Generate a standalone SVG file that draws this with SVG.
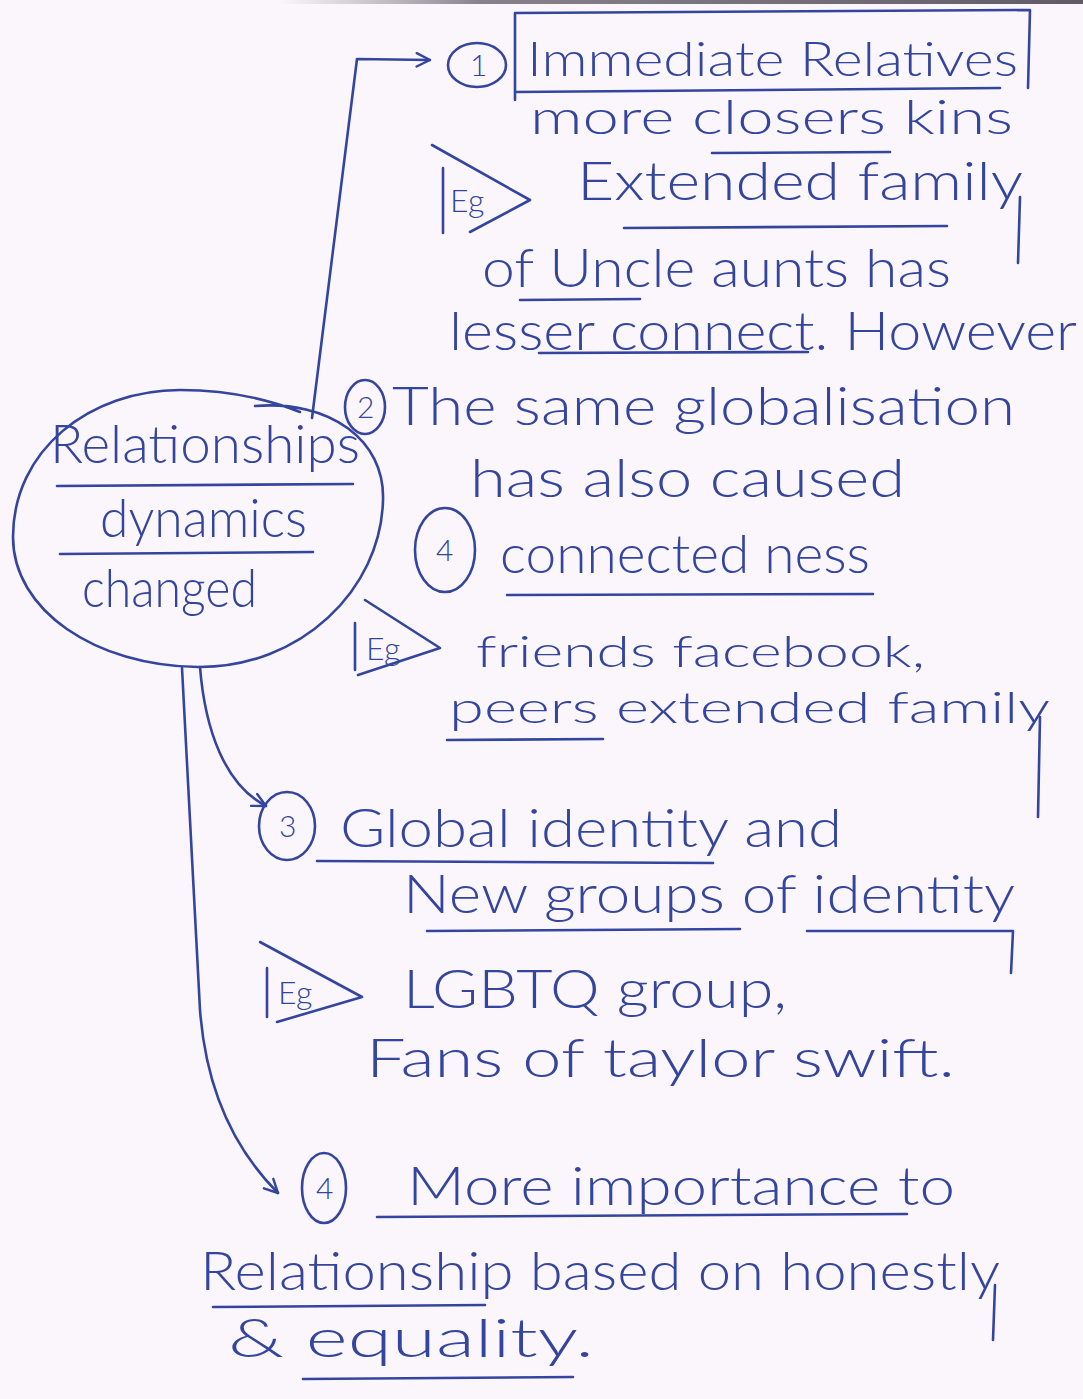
<svg xmlns="http://www.w3.org/2000/svg" width="1083" height="1399" viewBox="0 0 1083 1399">
  <defs>
    <style>
      .ink { fill: #34459f; font-family: 'Lato', 'Noto Sans', 'DejaVu Sans', sans-serif; font-weight: 300; }
      .big { font-size: 54px; }
      .mid { font-size: 48px; }
      .tight { font-size: 44px; }
      .small { font-size: 30px; }
      .tag { font-size: 32px; }
      .pen { fill: none; stroke: #34459f; stroke-width: 2.6; stroke-linecap: round; stroke-linejoin: round; }
    </style>
    <marker id="chev" viewBox="0 0 12 12" refX="11" refY="6" markerWidth="16" markerHeight="16" markerUnits="userSpaceOnUse" orient="auto">
      <path d="M1,1 L11,6 L1,11" fill="none" stroke="#34459f" stroke-width="1.8" stroke-linecap="round" stroke-linejoin="round"/>
    </marker>
    <linearGradient id="edge" x1="0" y1="0" x2="1" y2="0">
      <stop offset="0" stop-color="#7a7280" stop-opacity="0"/>
      <stop offset="0.25" stop-color="#6a6470" stop-opacity="0.8"/>
      <stop offset="1" stop-color="#4f4a55" stop-opacity="0.9"/>
    </linearGradient>
  </defs>

  <!-- paper -->
  <rect x="0" y="0" width="1083" height="1399" fill="#fbf6fb"/>
  <rect x="280" y="0" width="803" height="4" fill="url(#edge)"/>

  <!-- connectors from the central idea -->
  <g id="connectors" class="pen">
    <path d="M312,418 L357,59 L430,60" marker-end="url(#chev)"/>
    <path d="M200,667 C205,730 225,785 266,806" marker-end="url(#chev)"/>
    <path d="M182,668 L200,1010 C206,1090 235,1150 278,1193" marker-end="url(#chev)"/>
  </g>

  <!-- central idea -->
  <g id="center">
    <path class="pen" d="M255,406 C330,400 385,440 383,500 C381,590 300,668 198,667 C95,666 13,610 13,537 C13,450 90,390 180,390 C230,390 270,400 300,412"/>
    <text class="ink big" x="50" y="463" textLength="310" lengthAdjust="spacingAndGlyphs">Relationships</text>
    <path class="pen" d="M57,486 L353,484"/>
    <text class="ink big" x="100" y="537" textLength="207" lengthAdjust="spacingAndGlyphs">dynamics</text>
    <path class="pen" d="M60,554 L313,552"/>
    <text class="ink big" x="82" y="607" textLength="175" lengthAdjust="spacingAndGlyphs">changed</text>
  </g>

  <!-- point 1 -->
  <g id="point-1">
    <ellipse class="pen" cx="477" cy="65" rx="29" ry="22"/>
    <text class="ink small" x="470" y="76">1</text>
    <path class="pen" d="M515,100 L515,13 L1030,10 L1028,88 M515,92 L1000,88"/>
    <text class="ink mid" x="527" y="76" textLength="491" lengthAdjust="spacingAndGlyphs">Immediate Relatives</text>
    <text class="ink mid" x="530" y="134" textLength="483" lengthAdjust="spacingAndGlyphs">more closers kins</text>
    <path class="pen" d="M712,153 L890,152"/>
    <path class="pen" d="M432,145 L530,200 L470,232 M443,168 L443,233"/>
    <text class="ink tag" x="450" y="212">Eg</text>
    <text class="ink big" x="577" y="200" textLength="446" lengthAdjust="spacingAndGlyphs">Extended family</text>
    <path class="pen" d="M624,228 L947,226 M1020,197 L1018,263"/>
    <text class="ink big" x="482" y="287" textLength="469" lengthAdjust="spacingAndGlyphs">of Uncle aunts has</text>
    <path class="pen" d="M520,300 L640,299"/>
    <text class="ink big" x="449" y="350" textLength="628" lengthAdjust="spacingAndGlyphs">lesser connect. However</text>
    <path class="pen" d="M539,353 L808,352"/>
  </g>

  <!-- point 2 -->
  <g id="point-2">
    <ellipse class="pen" cx="365" cy="407" rx="20" ry="27"/>
    <text class="ink small" x="357" y="418">2</text>
    <text class="ink big" x="392" y="425" textLength="623" lengthAdjust="spacingAndGlyphs">The same globalisation</text>
    <text class="ink big" x="470" y="497" textLength="435" lengthAdjust="spacingAndGlyphs">has also caused</text>
    <ellipse class="pen" cx="445" cy="550" rx="30" ry="42"/>
    <text class="ink small" x="436" y="561">4</text>
    <text class="ink big" x="500" y="573" textLength="370" lengthAdjust="spacingAndGlyphs">connected ness</text>
    <path class="pen" d="M507,595 L873,594"/>
    <path class="pen" d="M365,600 L440,648 L358,675 M355,623 L355,670"/>
    <text class="ink tag" x="366" y="660">Eg</text>
    <text class="ink tight" x="476" y="667" textLength="449" lengthAdjust="spacingAndGlyphs">friends facebook,</text>
    <text class="ink tight" x="449" y="723" textLength="601" lengthAdjust="spacingAndGlyphs">peers extended family</text>
    <path class="pen" d="M447,740 L603,739 M1040,717 L1038,817"/>
  </g>

  <!-- point 3 -->
  <g id="point-3">
    <ellipse class="pen" cx="287" cy="826" rx="28" ry="34"/>
    <text class="ink small" x="279" y="837">3</text>
    <text class="ink big" x="340" y="847" textLength="502" lengthAdjust="spacingAndGlyphs">Global identity and</text>
    <path class="pen" d="M317,861 L713,863"/>
    <text class="ink big" x="403" y="913" textLength="612" lengthAdjust="spacingAndGlyphs">New groups of identity</text>
    <path class="pen" d="M427,931 L740,929 M807,931 L1013,931 L1011,973"/>
    <path class="pen" d="M260,942 L362,997 L277,1022 M267,968 L267,1017"/>
    <text class="ink tag" x="278" y="1004">Eg</text>
    <text class="ink big" x="403" y="1008" textLength="384" lengthAdjust="spacingAndGlyphs">LGBTQ group,</text>
    <text class="ink big" x="366" y="1077" textLength="589" lengthAdjust="spacingAndGlyphs">Fans of taylor swift.</text>
  </g>

  <!-- point 4 -->
  <g id="point-4">
    <ellipse class="pen" cx="324" cy="1188" rx="22" ry="35"/>
    <text class="ink small" x="316" y="1199">4</text>
    <text class="ink big" x="407" y="1205" textLength="548" lengthAdjust="spacingAndGlyphs">More importance to</text>
    <path class="pen" d="M377,1217 L907,1214"/>
    <text class="ink big" x="200" y="1290" textLength="800" lengthAdjust="spacingAndGlyphs">Relationship based on honestly</text>
    <path class="pen" d="M213,1307 L485,1305 M995,1285 L993,1340"/>
    <text class="ink big" x="228" y="1357" textLength="366" lengthAdjust="spacingAndGlyphs">&amp; equality.</text>
    <path class="pen" d="M303,1379 L573,1377"/>
  </g>
</svg>
